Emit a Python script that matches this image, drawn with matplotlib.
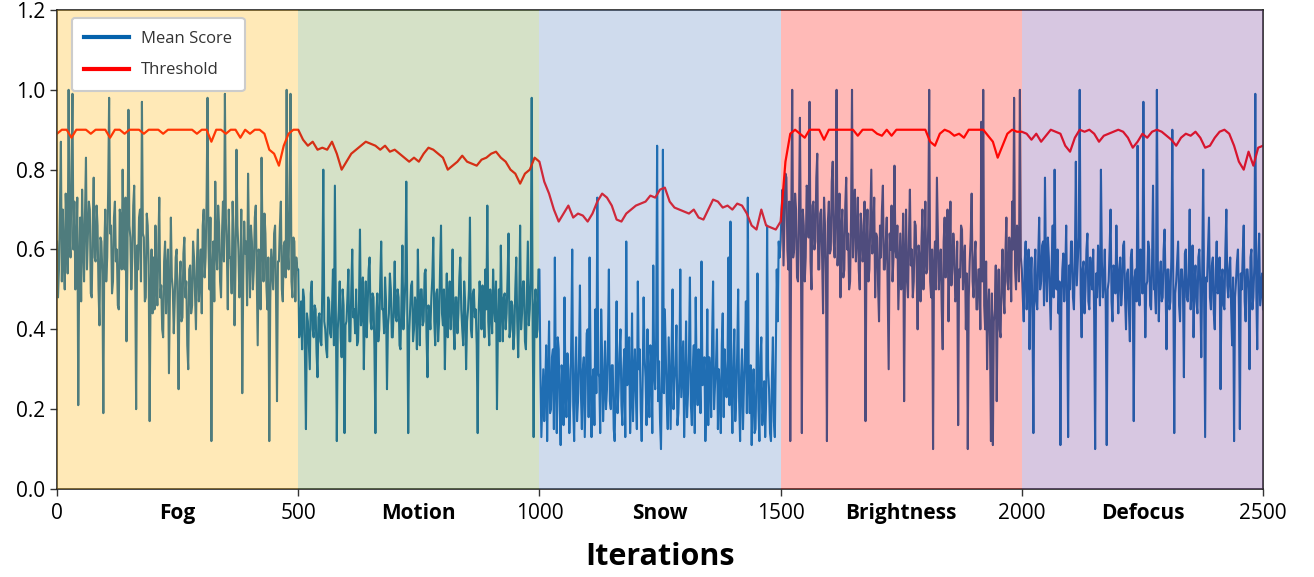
import numpy as np
import matplotlib
matplotlib.use("Agg")
import matplotlib.pyplot as plt

plt.rcParams['font.family'] = ['Open Sans', 'DejaVu Sans']

# ---------------- data ----------------
segments = ["Fog", "Motion", "Snow", "Brightness", "Defocus"]
seg_edges = [0, 500, 1000, 1500, 2000, 2500]
x_ticks = [0, 500, 1000, 1500, 2000, 2500]

score_step = 2
thr_step = 10

score_fog = [
    0.62, 0.48, 0.55, 0.70, 0.87, 0.52, 0.70, 0.58, 0.50, 0.74,
    0.66, 0.54, 1.00, 0.63, 0.58, 0.80, 0.99, 0.60, 0.72, 0.50,
    0.60, 0.73, 0.21, 0.56, 0.68, 0.47, 0.75, 0.62, 0.52, 0.69,
    0.83, 0.55, 0.64, 0.72, 0.70, 0.49, 0.48, 0.66, 0.78, 0.58,
    0.57, 0.71, 0.66, 0.50, 0.41, 0.63, 0.62, 0.54, 0.19, 0.60,
    0.70, 0.52, 0.58, 0.75, 0.98, 0.64, 0.66, 0.49, 0.52, 0.68,
    0.72, 0.57, 0.60, 0.46, 0.45, 0.70, 0.68, 0.55, 0.80, 0.62,
    0.55, 0.73, 0.37, 0.58, 0.95, 0.66, 0.63, 0.50, 0.58, 0.71,
    0.76, 0.54, 0.20, 0.61, 0.55, 0.68, 0.70, 0.52, 0.97, 0.64,
    0.63, 0.47, 0.48, 0.69, 0.66, 0.56, 0.17, 0.50, 0.60, 0.44,
    0.58, 0.45, 0.66, 0.52, 0.46, 0.61, 0.73, 0.48, 0.51, 0.40,
    0.38, 0.57, 0.62, 0.44, 0.55, 0.60, 0.29, 0.49, 0.68, 0.53,
    0.50, 0.39, 0.47, 0.58, 0.60, 0.45, 0.25, 0.52, 0.57, 0.42,
    0.43, 0.59, 0.63, 0.48, 0.52, 0.36, 0.30, 0.55, 0.56, 0.44,
    0.46, 0.62, 0.58, 0.49, 0.40, 0.57, 0.65, 0.47, 0.52, 0.60,
    0.44, 0.66, 0.70, 0.53, 0.58, 0.72, 0.98, 0.61, 0.50, 0.68,
    0.12, 0.55, 0.62, 0.47, 0.77, 0.60, 0.55, 0.71, 0.66, 0.52,
    0.48, 0.64, 0.72, 0.57, 0.99, 0.68, 0.60, 0.45, 0.70, 0.58,
    0.58, 0.49, 0.72, 0.63, 0.41, 0.56, 0.85, 0.66, 0.60, 0.48,
    0.53, 0.70, 0.24, 0.52, 0.67, 0.59, 0.62, 0.46, 0.79, 0.61,
    0.48, 0.66, 0.62, 0.50, 0.55, 0.68, 0.71, 0.54, 0.36, 0.60,
    0.58, 0.45, 0.83, 0.62, 0.52, 0.69, 0.64, 0.51, 0.45, 0.58,
    0.12, 0.47, 0.60, 0.55, 0.50, 0.64, 0.66, 0.48, 0.22, 0.57,
    0.57, 0.66, 0.72, 0.50, 0.47, 0.61, 0.62, 0.53, 1.00, 0.60,
    0.55, 0.70, 0.99, 0.52, 0.48, 0.63, 0.62, 0.47, 0.58, 0.55,
]
score_motion = [
    0.55, 0.38, 0.40, 0.47, 0.35, 0.50, 0.48, 0.33, 0.15, 0.44,
    0.42, 0.36, 0.30, 0.49, 0.52, 0.40, 0.38, 0.46, 0.45, 0.34,
    0.28, 0.43, 0.44, 0.37, 0.36, 0.51, 0.80, 0.42, 0.40, 0.35,
    0.33, 0.48, 0.47, 0.39, 0.38, 0.45, 0.55, 0.36, 0.76, 0.44,
    0.12, 0.40, 0.45, 0.52, 0.38, 0.33, 0.50, 0.46, 0.14, 0.41,
    0.42, 0.48, 0.55, 0.37, 0.37, 0.50, 0.60, 0.43, 0.45, 0.39,
    0.50, 0.36, 0.37, 0.47, 0.65, 0.41, 0.44, 0.53, 0.30, 0.45,
    0.52, 0.38, 0.46, 0.55, 0.58, 0.42, 0.40, 0.49, 0.48, 0.35,
    0.14, 0.44, 0.49, 0.37, 0.40, 0.52, 0.62, 0.45, 0.45, 0.39,
    0.53, 0.47, 0.25, 0.41, 0.44, 0.54, 0.50, 0.38, 0.38, 0.46,
    0.57, 0.43, 0.42, 0.50, 0.48, 0.36, 0.35, 0.47, 0.61, 0.40,
    0.45, 0.52, 0.77, 0.44, 0.14, 0.39, 0.45, 0.51, 0.52, 0.37,
    0.40, 0.48, 0.46, 0.35, 0.60, 0.45, 0.36, 0.50, 0.50, 0.41,
    0.42, 0.54, 0.55, 0.38, 0.28, 0.46, 0.44, 0.40, 0.48, 0.53,
    0.63, 0.42, 0.36, 0.49, 0.50, 0.37, 0.42, 0.55, 0.66, 0.44,
    0.41, 0.50, 0.30, 0.45, 0.54, 0.38, 0.47, 0.52, 0.40, 0.46,
    0.60, 0.41, 0.35, 0.48, 0.48, 0.39, 0.44, 0.53, 0.58, 0.45,
    0.40, 0.36, 0.52, 0.47, 0.30, 0.42, 0.45, 0.50, 0.68, 0.40,
    0.38, 0.49, 0.50, 0.43, 0.45, 0.36, 0.14, 0.44, 0.52, 0.47,
    0.40, 0.51, 0.47, 0.38, 0.55, 0.45, 0.71, 0.42, 0.36, 0.50,
    0.45, 0.39, 0.55, 0.46, 0.42, 0.52, 0.20, 0.41, 0.50, 0.37,
    0.61, 0.45, 0.37, 0.48, 0.49, 0.40, 0.44, 0.53, 0.64, 0.38,
    0.40, 0.47, 0.46, 0.35, 0.39, 0.50, 0.58, 0.42, 0.33, 0.46,
    0.66, 0.40, 0.44, 0.52, 0.52, 0.37, 0.35, 0.48, 0.62, 0.41,
    0.45, 0.53, 0.98, 0.40, 0.13, 0.46, 0.50, 0.38, 0.40, 0.55,
]
score_snow = [
    0.55, 0.30, 0.13, 0.22, 0.30, 0.17, 0.25, 0.36, 0.12, 0.28,
    0.42, 0.19, 0.20, 0.33, 0.35, 0.15, 0.58, 0.27, 0.14, 0.38,
    0.35, 0.20, 0.11, 0.31, 0.28, 0.16, 0.48, 0.25, 0.18, 0.34,
    0.30, 0.14, 0.22, 0.37, 0.60, 0.21, 0.12, 0.29, 0.38, 0.17,
    0.22, 0.33, 0.51, 0.24, 0.15, 0.30, 0.33, 0.13, 0.26, 0.39,
    0.40, 0.18, 0.58, 0.32, 0.13, 0.27, 0.30, 0.16, 0.45, 0.24,
    0.73, 0.29, 0.28, 0.14, 0.45, 0.33, 0.17, 0.25, 0.37, 0.20,
    0.25, 0.36, 0.55, 0.22, 0.20, 0.31, 0.31, 0.15, 0.12, 0.28,
    0.47, 0.19, 0.25, 0.34, 0.40, 0.21, 0.16, 0.30, 0.35, 0.13,
    0.62, 0.26, 0.30, 0.38, 0.14, 0.23, 0.44, 0.17, 0.28, 0.35,
    0.23, 0.15, 0.52, 0.30, 0.35, 0.20, 0.12, 0.27, 0.48, 0.33,
    0.28, 0.16, 0.40, 0.25, 0.18, 0.36, 0.32, 0.14, 0.56, 0.29,
    0.25, 0.38, 0.86, 0.22, 0.32, 0.17, 0.10, 0.30, 0.85, 0.24,
    0.45, 0.33, 0.22, 0.15, 0.38, 0.27, 0.15, 0.35, 0.50, 0.20,
    0.27, 0.31, 0.41, 0.16, 0.19, 0.28, 0.55, 0.23, 0.30, 0.37,
    0.13, 0.25, 0.42, 0.18, 0.24, 0.34, 0.53, 0.21, 0.16, 0.30,
    0.36, 0.14, 0.48, 0.27, 0.21, 0.35, 0.30, 0.19, 0.57, 0.26,
    0.28, 0.33, 0.12, 0.22, 0.45, 0.16, 0.33, 0.29, 0.18, 0.38,
    0.52, 0.20, 0.26, 0.31, 0.40, 0.15, 0.30, 0.24, 0.14, 0.36,
    0.44, 0.18, 0.35, 0.27, 0.23, 0.32, 0.58, 0.21, 0.67, 0.25,
    0.14, 0.30, 0.40, 0.17, 0.23, 0.34, 0.50, 0.22, 0.12, 0.28,
    0.35, 0.15, 0.26, 0.33, 0.47, 0.19, 0.73, 0.26, 0.19, 0.31,
    0.11, 0.24, 0.30, 0.14, 0.15, 0.29, 0.54, 0.20, 0.12, 0.33,
    0.38, 0.16, 0.20, 0.27, 0.13, 0.22, 0.66, 0.30, 0.25, 0.14,
    0.12, 0.28, 0.38, 0.17, 0.13, 0.35, 0.55, 0.42, 0.62, 0.58,
]
score_brightness = [
    0.62, 0.70, 0.75, 0.56, 0.68, 0.79, 0.78, 0.60, 0.55, 0.72,
    0.12, 0.66, 1.00, 0.58, 0.60, 0.74, 0.70, 0.53, 0.52, 0.68,
    0.93, 0.61, 0.14, 0.70, 0.66, 0.52, 0.58, 0.76, 0.75, 0.63,
    0.97, 0.57, 0.50, 0.71, 0.72, 0.60, 0.62, 0.78, 0.84, 0.55,
    0.55, 0.69, 0.70, 0.58, 0.44, 0.73, 0.66, 0.54, 0.12, 0.67,
    0.72, 0.59, 0.60, 0.77, 0.82, 0.62, 0.58, 0.70, 1.00, 0.56,
    0.62, 0.74, 0.48, 0.65, 0.70, 0.53, 0.55, 0.71, 0.78, 0.60,
    0.64, 0.50, 0.52, 0.68, 1.00, 0.58, 0.68, 0.75, 0.57, 0.63,
    0.73, 0.55, 0.50, 0.69, 0.66, 0.57, 0.60, 0.72, 0.17, 0.61,
    0.70, 0.52, 0.55, 0.67, 0.80, 0.59, 0.62, 0.73, 0.48, 0.64,
    0.63, 0.51, 0.42, 0.66, 0.58, 0.70, 0.76, 0.55, 0.55, 0.62,
    0.68, 0.50, 0.30, 0.64, 0.60, 0.71, 0.52, 0.58, 0.81, 0.60,
    0.58, 0.66, 0.45, 0.55, 0.64, 0.50, 0.55, 0.69, 0.22, 0.57,
    0.70, 0.52, 0.48, 0.63, 0.75, 0.56, 0.60, 0.48, 0.52, 0.67,
    0.66, 0.55, 0.40, 0.61, 0.58, 0.47, 0.62, 0.70, 0.50, 0.58,
    0.72, 0.54, 0.55, 0.66, 1.00, 0.52, 0.48, 0.60, 0.10, 0.56,
    0.62, 0.50, 0.78, 0.64, 0.50, 0.57, 0.60, 0.45, 0.35, 0.62,
    0.68, 0.53, 0.56, 0.70, 0.42, 0.58, 0.72, 0.51, 0.55, 0.64,
    0.60, 0.47, 0.48, 0.62, 0.16, 0.55, 0.53, 0.66, 0.65, 0.50,
    0.57, 0.61, 0.40, 0.54, 0.10, 0.48, 0.57, 0.63, 0.74, 0.52,
    0.48, 0.58, 0.62, 0.45, 0.45, 0.55, 0.55, 0.40, 0.92, 0.52,
    1.00, 0.46, 0.40, 0.57, 0.30, 0.44, 0.50, 0.38, 0.12, 0.49,
    0.11, 0.42, 0.45, 0.56, 0.22, 0.47, 0.55, 0.40, 0.38, 0.53,
    0.60, 0.48, 0.44, 0.59, 0.68, 0.52, 0.50, 0.63, 0.58, 0.47,
    0.72, 0.60, 0.98, 0.55, 0.50, 0.66, 0.62, 0.52, 1.00, 0.58,
]
score_defocus = [
    0.55, 0.48, 0.42, 0.57, 0.62, 0.45, 0.50, 0.60, 0.35, 0.52,
    0.58, 0.44, 0.14, 0.55, 0.60, 0.47, 0.45, 0.58, 0.68, 0.50,
    0.52, 0.61, 0.62, 0.46, 0.78, 0.55, 0.47, 0.63, 0.58, 0.49,
    0.40, 0.57, 0.66, 0.48, 0.80, 0.53, 0.50, 0.60, 0.44, 0.52,
    0.11, 0.46, 0.55, 0.59, 0.47, 0.54, 0.66, 0.45, 0.13, 0.56,
    0.50, 0.62, 0.62, 0.48, 0.45, 0.57, 0.82, 0.51, 0.57, 0.63,
    1.00, 0.49, 0.38, 0.55, 0.57, 0.44, 0.50, 0.60, 0.64, 0.47,
    0.45, 0.58, 0.53, 0.50, 0.60, 0.43, 0.10, 0.54, 0.48, 0.61,
    0.55, 0.46, 0.80, 0.57, 0.48, 0.52, 0.60, 0.45, 0.11, 0.50,
    0.52, 0.60, 0.70, 0.47, 0.42, 0.56, 0.55, 0.49, 0.66, 0.53,
    0.44, 0.55, 0.58, 0.46, 0.50, 0.61, 0.62, 0.48, 0.40, 0.54,
    0.55, 0.45, 0.37, 0.58, 0.60, 0.50, 0.17, 0.53, 0.55, 0.47,
    0.86, 0.52, 0.46, 0.60, 0.58, 0.49, 0.97, 0.55, 0.38, 0.51,
    0.52, 0.62, 0.60, 0.46, 0.45, 0.57, 0.76, 0.50, 0.50, 0.44,
    1.00, 0.56, 0.42, 0.53, 0.57, 0.47, 0.48, 0.60, 0.65, 0.51,
    0.35, 0.55, 0.55, 0.45, 0.47, 0.58, 0.90, 0.52, 0.14, 0.49,
    0.52, 0.57, 0.62, 0.46, 0.42, 0.55, 0.55, 0.50, 0.28, 0.59,
    0.60, 0.48, 0.47, 0.54, 0.70, 0.45, 0.50, 0.61, 0.38, 0.52,
    0.56, 0.47, 0.44, 0.58, 0.60, 0.50, 0.33, 0.55, 0.80, 0.46,
    0.13, 0.53, 0.52, 0.60, 0.68, 0.48, 0.45, 0.56, 0.58, 0.44,
    0.40, 0.55, 0.62, 0.49, 0.50, 0.58, 0.25, 0.52, 0.55, 0.46,
    0.45, 0.60, 0.70, 0.51, 0.48, 0.55, 0.58, 0.45, 0.36, 0.53,
    0.12, 0.48, 0.52, 0.57, 0.60, 0.46, 0.15, 0.54, 0.50, 0.59,
    0.66, 0.47, 0.42, 0.55, 0.55, 0.50, 0.30, 0.58, 0.60, 0.45,
    0.48, 0.56, 0.99, 0.50, 0.35, 0.57, 0.64, 0.46, 0.50, 0.54,
    0.45,
]

thr_fog = [
    0.89, 0.90, 0.90, 0.88, 0.90, 0.90, 0.90, 0.89, 0.90, 0.90,
    0.90, 0.88, 0.90, 0.90, 0.89, 0.90, 0.90, 0.90, 0.89, 0.90,
    0.90, 0.90, 0.89, 0.90, 0.90, 0.90, 0.90, 0.90, 0.90, 0.89,
    0.90, 0.90, 0.87, 0.90, 0.90, 0.89, 0.90, 0.90, 0.88, 0.90,
    0.89, 0.90, 0.90, 0.89, 0.85, 0.84, 0.81, 0.86, 0.89, 0.90,
]
thr_motion = [
    0.90, 0.875, 0.86, 0.87, 0.85, 0.855, 0.85, 0.87, 0.84, 0.80,
    0.82, 0.84, 0.85, 0.86, 0.87, 0.865, 0.86, 0.85, 0.86, 0.845,
    0.85, 0.84, 0.83, 0.82, 0.83, 0.82, 0.84, 0.855, 0.85, 0.84,
    0.83, 0.80, 0.81, 0.82, 0.835, 0.82, 0.815, 0.81, 0.825, 0.83,
    0.84, 0.845, 0.83, 0.82, 0.80, 0.79, 0.765, 0.79, 0.80, 0.83,
]
thr_snow = [
    0.82, 0.77, 0.74, 0.70, 0.67, 0.69, 0.71, 0.68, 0.69, 0.685,
    0.67, 0.69, 0.72, 0.74, 0.73, 0.71, 0.675, 0.67, 0.69, 0.70,
    0.71, 0.715, 0.72, 0.735, 0.73, 0.75, 0.755, 0.72, 0.705, 0.70,
    0.695, 0.69, 0.70, 0.68, 0.675, 0.70, 0.725, 0.72, 0.705, 0.71,
    0.70, 0.715, 0.71, 0.69, 0.66, 0.65, 0.70, 0.66, 0.655, 0.65,
]
thr_brightness = [
    0.67, 0.82, 0.89, 0.90, 0.89, 0.88, 0.90, 0.90, 0.90, 0.875,
    0.90, 0.90, 0.90, 0.90, 0.90, 0.90, 0.885, 0.90, 0.90, 0.90,
    0.89, 0.885, 0.90, 0.885, 0.90, 0.90, 0.90, 0.90, 0.90, 0.90,
    0.90, 0.87, 0.86, 0.89, 0.90, 0.895, 0.885, 0.89, 0.88, 0.90,
    0.90, 0.90, 0.90, 0.885, 0.87, 0.83, 0.86, 0.89, 0.90, 0.895,
]
thr_defocus = [
    0.895, 0.89, 0.875, 0.89, 0.87, 0.885, 0.90, 0.895, 0.89, 0.86,
    0.845, 0.88, 0.90, 0.895, 0.90, 0.89, 0.87, 0.885, 0.89, 0.895,
    0.90, 0.895, 0.88, 0.855, 0.87, 0.89, 0.88, 0.895, 0.90, 0.895,
    0.885, 0.875, 0.86, 0.88, 0.89, 0.885, 0.895, 0.88, 0.855, 0.86,
    0.88, 0.895, 0.90, 0.89, 0.86, 0.82, 0.80, 0.845, 0.81, 0.855,
    0.86,
]

# ---------------- styles ----------------
score_color = '#0462AC'
thr_color = '#FF0000'
span_colors = ['#FFB912', '#769E48', '#628AC6', '#FF1C12', '#7D489E']
span_alpha = 0.3

score = np.array(score_fog + score_motion + score_snow + score_brightness + score_defocus)
thr = np.array(thr_fog + thr_motion + thr_snow + thr_brightness + thr_defocus)
x_score = np.arange(len(score)) * score_step
x_thr = np.arange(len(thr)) * thr_step

fig = plt.figure(figsize=(13.14, 5.77), dpi=100)
ax = fig.add_axes([0.0434, 0.1525, 0.9178, 0.8302])

ax.plot(x_score, score, color=score_color, lw=1.5, label='Mean Score', zorder=2)
ax.plot(x_thr, thr, color=thr_color, lw=1.6, label='Threshold', zorder=2.2)

for i in range(len(segments)):
    ax.axvspan(seg_edges[i], seg_edges[i + 1], color=span_colors[i],
               alpha=span_alpha, lw=0, zorder=3)

ax.set_xlim(0, 2500)
ax.set_ylim(0, 1.2)
ax.set_yticks(np.arange(0, 1.21, 0.2))
ax.set_yticklabels([f'{v:.1f}' for v in np.arange(0, 1.21, 0.2)])
ax.set_xticks(x_ticks)
ax.set_xticklabels([str(t) for t in x_ticks])
mids = [(seg_edges[i] + seg_edges[i + 1]) / 2 for i in range(len(segments))]
ax.set_xticks(mids, minor=True)
ax.set_xticklabels(segments, minor=True, fontweight='bold')
ax.tick_params(axis='both', which='major', labelsize=15, length=5, width=1, color='#333333')
ax.tick_params(axis='x', which='major', pad=5)
ax.tick_params(axis='x', which='minor', length=0, labelsize=15, pad=10)

for sp in ax.spines.values():
    sp.set_color('#222222')
    sp.set_linewidth(1.2)

ax.set_xlabel('Iterations', fontsize=22, fontweight='bold', labelpad=13)

leg = ax.legend(loc='upper left', bbox_to_anchor=(0.0124, 0.983), borderaxespad=0,
                fontsize=12, frameon=True, fancybox=True, framealpha=1,
                edgecolor='#cccccc', handlelength=2.7, handletextpad=0.7,
                borderpad=0.75, labelspacing=0.95)
for h in leg.get_lines():
    h.set_linewidth(3)
for t in leg.get_texts():
    t.set_color('#333333')
leg.get_frame().set_linewidth(1.5)
leg.set_zorder(5)

fig.savefig('out.png', dpi=100)
